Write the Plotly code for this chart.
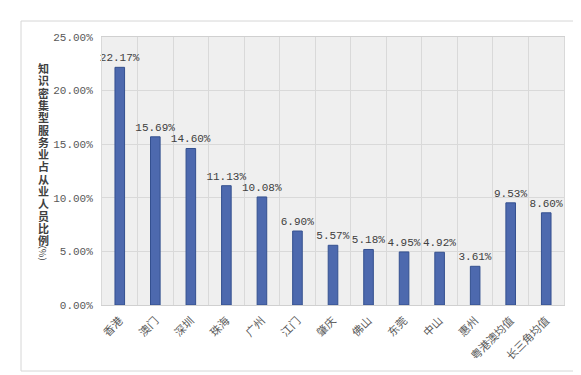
import plotly.graph_objects as go

categories = ["香港", "澳门", "深圳", "珠海", "广州", "江门", "肇庆", "佛山", "东莞", "中山", "惠州", "粤港澳均值", "长三角均值"]
values_pct = [22.17, 15.69, 14.60, 11.13, 10.08, 6.90, 5.57, 5.18, 4.95, 4.92, 3.61, 9.53, 8.60]
y_ticks = [0, 0.05, 0.10, 0.15, 0.20, 0.25]
y_title = "知识密集型服务业占从业人员比例"

W, H = 581, 375
L, R, T, B = 94, 25, 29, 78
pw, ph = W - L - R, H - T - B

fig = go.Figure()
fig.add_trace(go.Bar(
    x=categories,
    y=[v / 100 for v in values_pct],
    width=0.27,
    marker=dict(color="#4d69ae", line=dict(color="#34508f", width=1)),
    text=[f"{v:.2f}%" for v in values_pct],
    textposition="outside",
    constraintext="none",
    textfont=dict(family="Liberation Mono, DejaVu Sans Mono", size=11, color="#404040"),
    cliponaxis=False,
))

fig.update_layout(
    width=W, height=H,
    margin=dict(l=L, r=R, t=T, b=B),
    paper_bgcolor="#ffffff",
    plot_bgcolor="#efefef",
    showlegend=False,
    xaxis=dict(
        type="category",
        tickson="boundaries",
        showgrid=True, gridcolor="#d9d9d9", gridwidth=1,
        showline=True, linecolor="#d0d0d0",
        ticks="", tickangle=-45,
        ticklabelstandoff=4,
        tickfont=dict(family="Noto Sans CJK SC", size=11, color="#595959"),
        mirror=True,
    ),
    yaxis=dict(
        range=[0, 0.25],
        tickvals=y_ticks,
        tickformat=".2%",
        showgrid=True, gridcolor="#d9d9d9", gridwidth=1,
        showline=True, linecolor="#d9d9d9",
        zeroline=False,
        ticks="",
        ticklabelstandoff=6,
        tickfont=dict(family="Liberation Mono, DejaVu Sans Mono", size=11, color="#595959"),
        mirror=True,
    ),
)

def px_to_paper_x(px):
    return (px - L) / pw

def px_to_paper_y(py):
    return (H - B - py) / ph

fig.add_shape(type="rect", xref="paper", yref="paper",
              x0=px_to_paper_x(13), x1=px_to_paper_x(571),
              y0=px_to_paper_y(363), y1=px_to_paper_y(13),
              line=dict(color="#d6d6d6", width=1), fillcolor="rgba(0,0,0,0)", layer="below")

# vertical y-axis title, stacked characters
for i, ch in enumerate(y_title):
    fig.add_annotation(text=ch, xref="paper", yref="paper",
                       x=px_to_paper_x(35), y=px_to_paper_y(60 + i * 12.3),
                       showarrow=False, xanchor="center", yanchor="middle",
                       height=12, width=13, borderpad=0,
                       font=dict(family="Noto Sans CJK SC", size=11, color="#404040", weight="bold"))
fig.add_annotation(text="（%）", xref="paper", yref="paper",
                   x=px_to_paper_x(35), y=px_to_paper_y(245),
                   showarrow=False, textangle=90, xanchor="center", yanchor="middle",
                   font=dict(family="Noto Sans CJK SC", size=9, color="#404040"))

fig.write_html("out.html")
